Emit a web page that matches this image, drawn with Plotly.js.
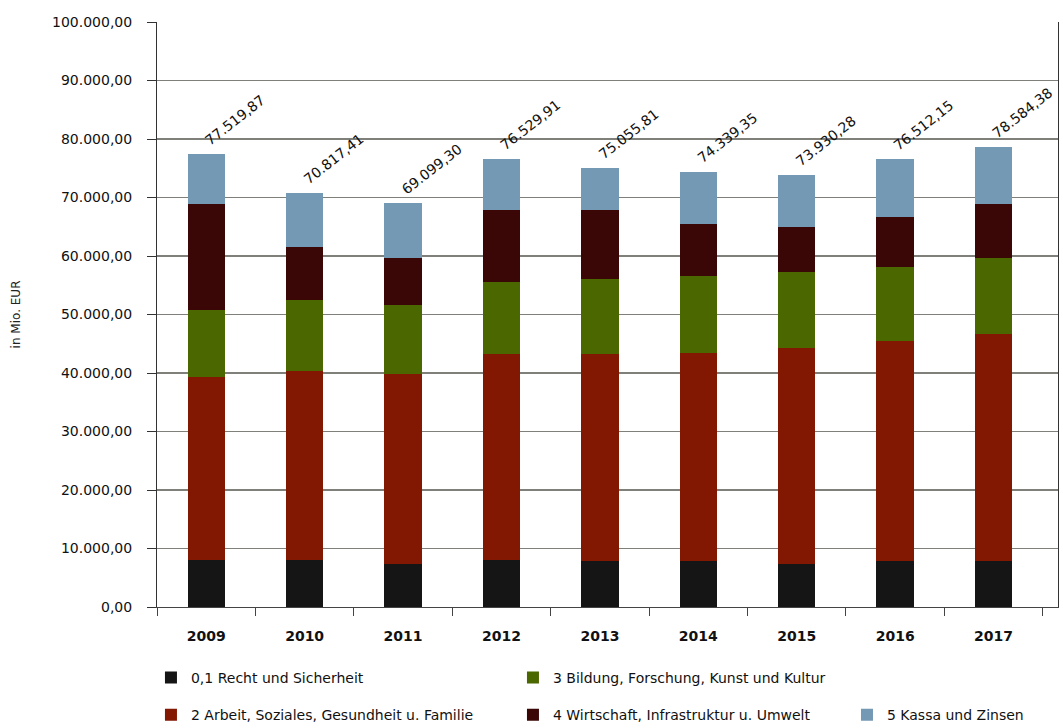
<!DOCTYPE html>
<html>
<head>
<meta charset="utf-8">
<script src="https://cdn.plot.ly/plotly-3.0.1.min.js"></script>
<style>html,body{margin:0;padding:0;background:#fff;}#chart{width:1063px;height:728px;}</style>
</head>
<body>
<div id="chart"></div>
<script>
// Data (Mio. EUR)
const years = ["2009","2010","2011","2012","2013","2014","2015","2016","2017"];
const recht      = [8000, 8000, 7300, 8000, 7900, 7800, 7400, 7800, 7800];
const arbeit     = [31400, 32400, 32500, 35200, 35300, 35700, 36800, 37600, 38800];
const bildung    = [11300, 12000, 11900, 12300, 12900, 13000, 13000, 12800, 13100];
const wirtschaft = [18200, 9200, 7900, 12400, 11800, 9000, 7800, 8400, 9200];
const kassa      = [8620, 9217, 9499, 8630, 7156, 8839, 8930, 9912, 9684];
const totals     = [77519.87, 70817.41, 69099.30, 76529.91, 75055.81, 74339.35, 73930.28, 76512.15, 78584.38];
const seriesNames = ["0,1 Recht und Sicherheit", "2 Arbeit, Soziales, Gesundheit u. Familie",
  "3 Bildung, Forschung, Kunst und Kultur", "4 Wirtschaft, Infrastruktur u. Umwelt", "5 Kassa und Zinsen"];
const yTicks = [0,10000,20000,30000,40000,50000,60000,70000,80000,90000,100000];

const colors = ["#151515", "#821702", "#4b6700", "#3a0606", "#7499b4"];
const FONT = "'DejaVu Sans', sans-serif";

function fmt(v){
  const parts = v.toFixed(2).split(".");
  parts[0] = parts[0].replace(/\B(?=(\d{3})+(?!\d))/g, ".");
  return parts[0] + "," + parts[1];
}

const vals = [recht, arbeit, bildung, wirtschaft, kassa];
const legendIds = ["legend", "legend2", "legend", "legend2", "legend3"];
const traces = vals.map((v, i) => ({
  type: "bar", x: years, y: v, name: seriesNames[i],
  marker: {color: colors[i], line: {width: 0}},
  legend: legendIds[i], hoverinfo: "y+name"
}));

const annotations = years.map((yr, i) => ({
  x: i, y: totals[i], xref: "x", yref: "y",
  text: fmt(totals[i]), showarrow: false, textangle: -38,
  xanchor: "left", yanchor: "bottom", xshift: -7, yshift: 3,
  font: {family: FONT, size: 14, color: "#111"}
}));

const legendCommon = {
  orientation: "h", xref: "paper", yref: "paper", xanchor: "left", yanchor: "middle",
  font: {family: FONT, size: 14, color: "#111"},
  bgcolor: "rgba(0,0,0,0)", traceorder: "normal",
  entrywidthmode: "pixels", entrywidth: 317
};

const layout = {
  width: 1063, height: 728,
  margin: {l: 157, r: 5, t: 22, b: 121, autoexpand: false},
  paper_bgcolor: "#fff", plot_bgcolor: "#fff",
  barmode: "stack", bargap: 0.62,
  separators: ",.",
  showlegend: true,
  xaxis: {
    type: "category", showline: true, linecolor: "#444", linewidth: 1,
    ticks: "outside", tickson: "boundaries", ticklen: 8, tickcolor: "#444",
    ticklabelstandoff: 16, tickangle: 0,
    tickfont: {family: FONT, size: 14, color: "#111", weight: "bold"},
    showgrid: false, automargin: false
  },
  yaxis: {
    range: [0, 100000], tickvals: yTicks,
    tickformat: ",.2f", showline: true, linecolor: "#333", linewidth: 1, mirror: true,
    ticks: "outside", ticklen: 9, tickcolor: "#333", ticklabelstandoff: 12,
    showgrid: true, gridcolor: "#80807a", gridwidth: 1.3, zeroline: false,
    tickfont: {family: FONT, size: 14, color: "#111"}, automargin: false,
    title: {text: "in Mio. EUR", font: {family: FONT, size: 12, color: "#222"}, standoff: 28}
  },
  legend: Object.assign({}, legendCommon, {x: -0.0067, y: -0.121}),
  legend2: Object.assign({}, legendCommon, {x: -0.0067, y: -0.185}),
  legend3: Object.assign({}, legendCommon, {x: 0.7658, y: -0.185}),
  annotations: annotations
};

Plotly.newPlot("chart", traces, layout, {displayModeBar: false, staticPlot: true});
</script>
</body>
</html>
